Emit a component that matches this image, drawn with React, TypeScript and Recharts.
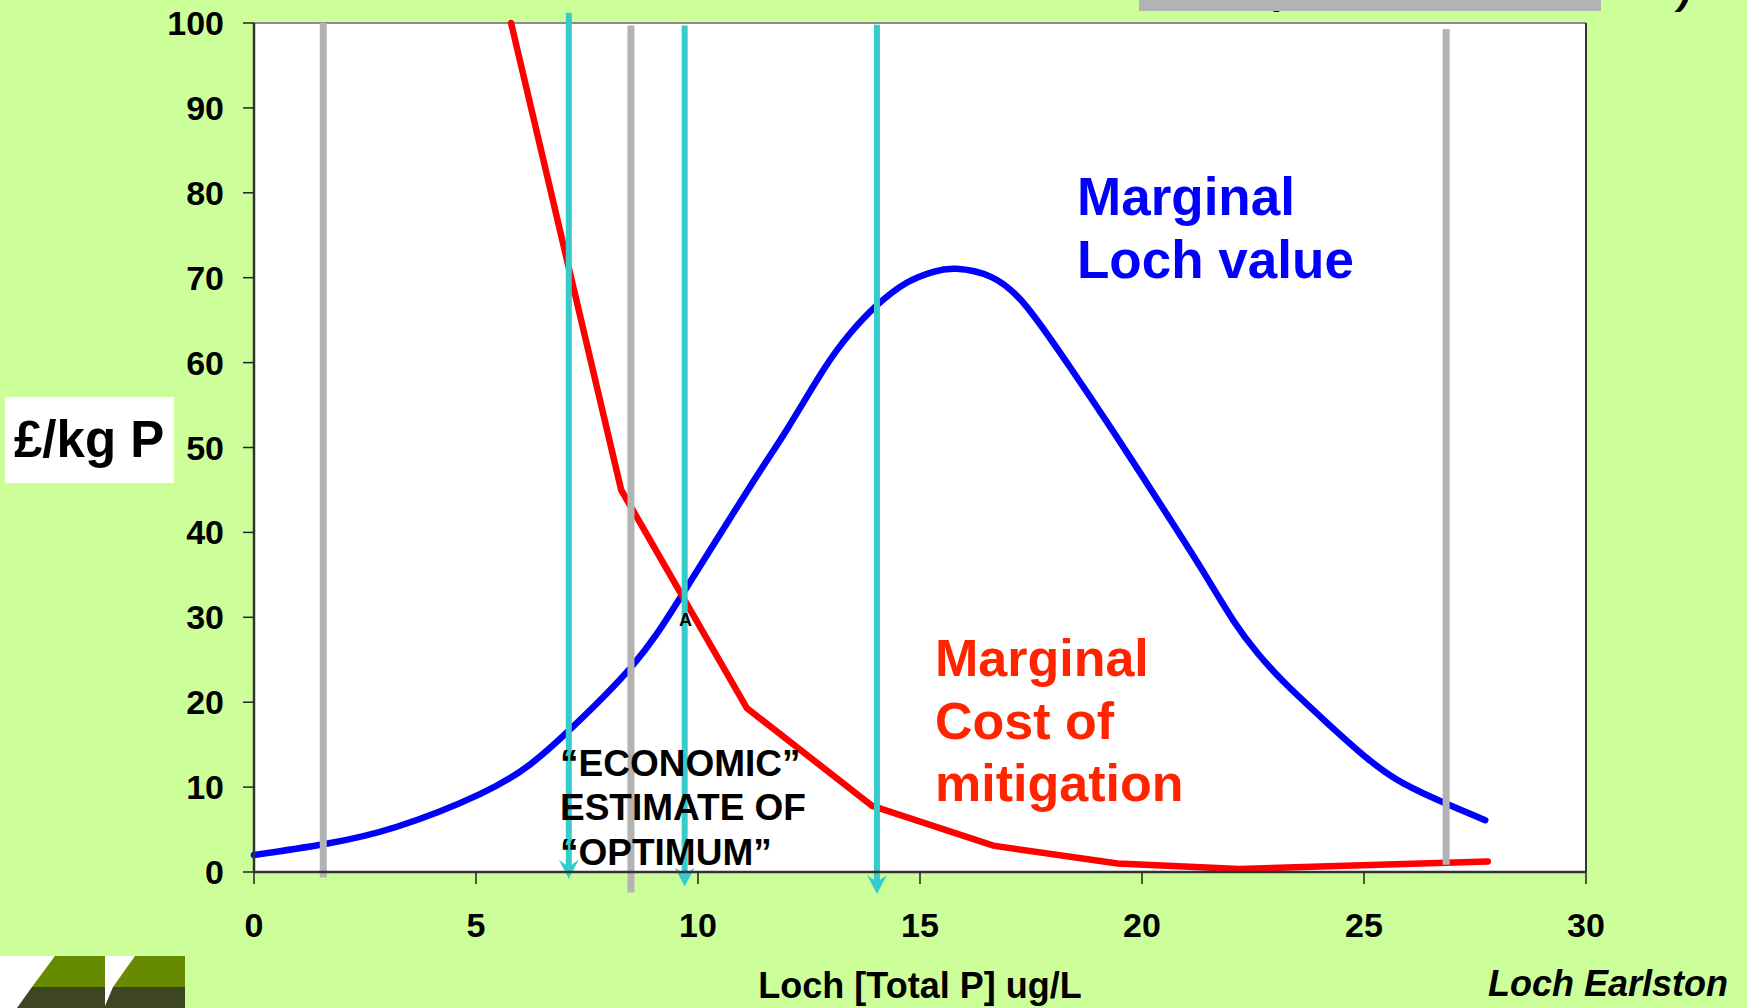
import React from 'react'
import { LineChart, Line, XAxis, YAxis, ReferenceLine, ReferenceDot } from 'recharts'

// Marginal loch value curve (blue)
const valueTP = [0, 1.6, 3.2, 5.1, 6.2, 7.06, 8.49, 9.66, 11.16, 12.0, 12.82, 13.42, 14.02, 14.7, 15.3, 15.82, 16.6, 17.4, 18.4, 19.4, 20.7, 21.4, 22.06, 22.6, 23.19, 24.1, 25.07, 25.9, 26.87, 27.73]
const lochValue = [2.0, 3.3, 5.3, 9.2, 12.6, 16.5, 24.1, 32.8, 45.3, 52.1, 59.1, 63.4, 66.7, 69.4, 70.7, 71.05, 70.1, 66.6, 59.3, 51.5, 41.0, 35.2, 29.6, 25.8, 22.4, 17.9, 13.4, 10.4, 8.0, 6.1]

// Marginal cost of mitigation (red)
const costTP = [5.79, 8.27, 11.1, 13.92, 16.65, 19.45, 22.19, 27.79]
const mitigationCost = [100, 45.0, 19.3, 7.8, 3.1, 1.0, 0.35, 1.25]

// grey markers: x, top, bottom
const greyX = [1.56, 8.49, 26.85]
const greyTop = [100, 99.7, 99.3]
const greyBottom = [-0.65, -2.4, 0.85]

// cyan arrows: x, top, tip
const arrowX = [7.09, 9.7, 14.03]
const arrowTop = [101.2, 99.7, 99.8]
const arrowTip = [-0.8, -1.7, -2.6]

const xTicks = [0, 5, 10, 15, 20, 25, 30]
const yTicks = [0, 10, 20, 30, 40, 50, 60, 70, 80, 90, 100]

const valueData = valueTP.map((x, i) => ({ x, y: lochValue[i] }))
const costData = costTP.map((x, i) => ({ x, y: mitigationCost[i] }))

const FONT = '"Liberation Sans", Arial, Helvetica, sans-serif'
const BG = '#CCFF99'
const CYAN = '#36CCCC'
const GREY = '#B3B3B3'

const ArrowShape = (props: any) => {
  const { x1, y1, y2 } = props
  const top = Math.min(y1, y2)
  const tip = Math.max(y1, y2)
  return (
    <g>
      <line x1={x1} y1={top} x2={x1} y2={tip - 8} stroke={CYAN} strokeWidth={6} />
      <polygon
        points={`${x1},${tip} ${x1 - 10},${tip - 19} ${x1},${tip - 12} ${x1 + 10},${tip - 19}`}
        fill={CYAN}
      />
    </g>
  )
}

const LetterA = (props: any) => (
  <text x={props.cx} y={props.cy} textAnchor="middle" fontFamily={FONT} fontWeight={700} fontSize={18} fill="#000">
    A
  </text>
)

export default function App() {
  return (
    <div style={{ position: 'absolute', left: 0, top: 0, width: 1747, height: 1008, background: BG, overflow: 'hidden' }}>
      {/* plot background */}
      <div style={{ position: 'absolute', left: 254, top: 23, width: 1332, height: 849, background: '#fff' }} />
      <div style={{ position: 'absolute', left: 0, top: 0 }}>
        <LineChart width={1747} height={1008} data={valueData} margin={{ top: 23, right: 0, bottom: 56, left: 0 }}>
          <XAxis
            type="number"
            dataKey="x"
            domain={[0, 30]}
            ticks={xTicks}
            height={80}
            axisLine={{ stroke: '#333', strokeWidth: 2.5 }}
            tickLine={{ stroke: '#222', strokeWidth: 1.5 }}
            tickSize={12}
            tickMargin={29}
            tick={{ fill: '#000', fontSize: 34, fontWeight: 700, fontFamily: FONT }}
          />
          <YAxis
            domain={[0, 100]}
            ticks={yTicks}
            width={254}
            axisLine={{ stroke: '#333', strokeWidth: 2.5 }}
            tickLine={{ stroke: '#222', strokeWidth: 1.5 }}
            tickSize={11}
            tickMargin={19}
            tick={{ fill: '#000', fontSize: 34, fontWeight: 700, fontFamily: FONT }}
          />
          <YAxis
            yAxisId="right"
            orientation="right"
            domain={[0, 100]}
            ticks={yTicks}
            width={161}
            axisLine={{ stroke: '#333', strokeWidth: 2 }}
            tickLine={false}
            tickSize={0}
            tickMargin={21}
            tick={{ fill: '#fff', fontSize: 24, fontFamily: FONT }}
          />
          <ReferenceLine y={100} stroke="#8c8c8c" strokeWidth={2} />
          <Line
            data={valueData}
            dataKey="y"
            type="natural"
            stroke="#0000FF"
            strokeWidth={6.5}
            strokeLinecap="round"
            dot={false}
            activeDot={false}
            isAnimationActive={false}
          />
          <Line
            data={costData}
            dataKey="y"
            type="linear"
            stroke="#FF0000"
            strokeWidth={6.5}
            strokeLinecap="round"
            dot={false}
            activeDot={false}
            isAnimationActive={false}
          />
          {greyX.map((x, i) => (
            <ReferenceLine
              key={'g' + i}
              segment={[{ x, y: greyTop[i] }, { x, y: greyBottom[i] }]}
              ifOverflow="visible"
              stroke={GREY}
              strokeWidth={7}
            />
          ))}
          <ReferenceDot x={9.72} y={29} ifOverflow="visible" shape={LetterA} />
          {arrowX.map((x, i) => (
            <ReferenceLine
              key={'c' + i}
              segment={[{ x, y: arrowTop[i] }, { x, y: arrowTip[i] }]}
              ifOverflow="visible"
              shape={ArrowShape}
            />
          ))}
        </LineChart>
      </div>
      <svg width={1747} height={1008} style={{ position: 'absolute', left: 0, top: 0, pointerEvents: 'none' }}>
        <text x={1266} y={4} fontFamily={FONT} fontWeight={700} fontSize={40} fill="#000">(</text>
        <text x={1678} y={4} fontFamily={FONT} fontWeight={700} fontStyle="italic" fontSize={40} fill="#000">)</text>
        <rect x={1139} y={0} width={462} height={11} fill={GREY} />

        <rect x={5} y={397} width={169} height={86} fill="#fff" />
        <text x={14} y={457} fontFamily={FONT} fontWeight={700} fontSize={51} fill="#000">£/kg P</text>

        <g fontFamily={FONT} fontWeight={700} fontSize={53} fill="#0000FF">
          <text x={1077} y={215}>Marginal</text>
          <text x={1077} y={278}>Loch value</text>
        </g>
        <g fontFamily={FONT} fontWeight={700} fontSize={52} fill="#FF2400">
          <text x={935} y={676}>Marginal</text>
          <text x={935} y={739}>Cost of</text>
          <text x={935} y={801}>mitigation</text>
        </g>
        <g fontFamily={FONT} fontWeight={700} fontSize={37} fill="#000">
          <text x={560} y={776}>“ECONOMIC”</text>
          <text x={560} y={820}>ESTIMATE OF</text>
          <text x={560} y={865}>“OPTIMUM”</text>
        </g>
        <text x={920} y={998} textAnchor="middle" fontFamily={FONT} fontWeight={700} fontSize={36} fill="#000">
          Loch [Total P] ug/L
        </text>
        <text x={1488} y={996} fontFamily={FONT} fontWeight={700} fontStyle="italic" fontSize={36} fill="#000">
          Loch Earlston
        </text>

        <polygon points="0,956 55,956 17,1008 0,1008" fill="#fff" />
        <polygon points="55,956 105,956 105,987 32,987" fill="#668A00" />
        <polygon points="32,987 105,987 105,1008 17,1008" fill="#3D4522" />
        <polygon points="105,956 135,956 105,1006" fill="#fff" />
        <polygon points="135,956 185,956 185,987 113,987" fill="#668A00" />
        <polygon points="113,987 185,987 185,1008 105,1008 105,1006" fill="#3D4522" />
      </svg>
    </div>
  )
}
